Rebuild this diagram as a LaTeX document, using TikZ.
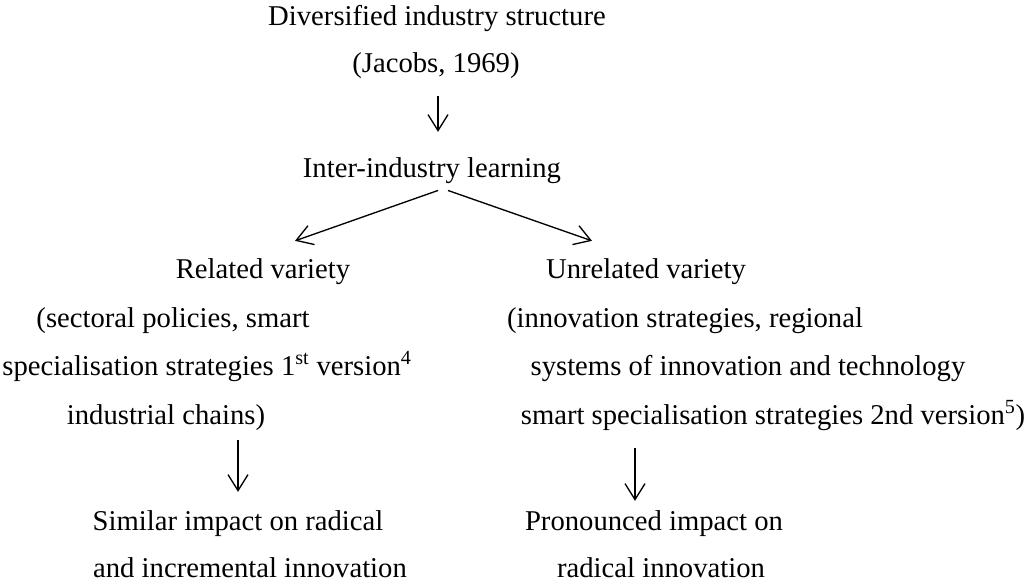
\documentclass[tikz,border=0pt]{standalone}
\usepackage{fontspec}
\setmainfont{Liberation Serif}
\usetikzlibrary{arrows.meta, positioning}

\begin{document}
\begin{tikzpicture}[
    x=0.75pt, y=-0.75pt,
    line/.style={anchor=base, inner sep=0pt, font=\fontsize{21.5}{25}\selectfont},
    arrow/.style={-{Straight Barb[length=12pt, width=15pt]}, line width=1pt}
]
    \useasboundingbox (0,0) rectangle (1033,587);

    % Top
    \node[line] (structure) at (437,25)  {Diversified industry structure};
    \node[line] (jacobs)    at (436,72)  {(Jacobs, 1969)};
    \node[line] (learning)  at (432,177) {Inter-industry learning};

    % Related variety
    \node[line] (related) at (263,278) {Related variety};
    \node[line] (relA)    at (173,327) {(sectoral policies, smart};
    \node[line] (relB)    at (207,375) {specialisation strategies 1\textsuperscript{st} version\textsuperscript{4}};
    \node[line] (relC)    at (166,424) {industrial chains)};

    % Unrelated variety
    \node[line] (unrelated) at (646,278) {Unrelated variety};
    \node[line] (unrA)      at (685,327) {(innovation strategies, regional};
    \node[line] (unrB)      at (748,375) {systems of innovation and technology};
    \node[line] (unrC)      at (773,424) {smart specialisation strategies 2nd version\textsuperscript{5})};

    % Impact
    \node[line] (similar)     at (238,530) {Similar impact on radical};
    \node[line] (similarB)    at (250,577) {and incremental innovation};
    \node[line] (pronounced)  at (654,530) {Pronounced impact on};
    \node[line] (pronouncedB) at (661,577) {radical innovation};

    % Arrows
    \draw[arrow] ([shift={(2,18)}]jacobs.south) -- ([shift={(6,-25)}]learning.north);
    \draw[arrow] ([shift={(6,7)}]learning.south) -- ([shift={(32,-17)}]related.north);
    \draw[arrow] ([shift={(16,7)}]learning.south) -- ([shift={(-54,-17)}]unrelated.north);
    \draw[arrow] ([shift={(72,10)}]relC.south) -- ([shift={(0,-18)}]similar.north);
    \draw[arrow] ([shift={(-138,18)}]unrC.south) -- ([shift={(-19,-9)}]pronounced.north);

\end{tikzpicture}
\end{document}
